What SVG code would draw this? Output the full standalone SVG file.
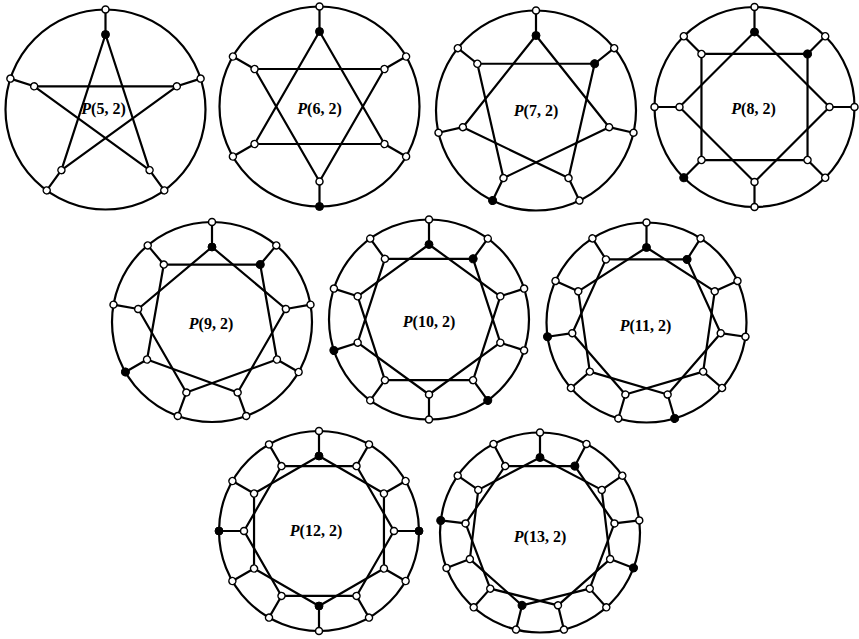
<svg xmlns="http://www.w3.org/2000/svg" xmlns:xlink="http://www.w3.org/1999/xlink" width="859" height="639" viewBox="0 0 859 639">
<style>
.e{stroke:#000;stroke-width:2.2;fill:none;stroke-linecap:round}
.w{fill:#fff;stroke:#000;stroke-width:1.5}
.b{fill:#000;stroke:#000;stroke-width:1}
.lbl{font-family:"Liberation Serif","DejaVu Serif",serif;font-weight:bold;font-size:16px;text-anchor:middle;fill:#000}
.it{font-style:italic}
</style>
<defs>
<line id="sp" class="e" x1="0" y1="-100" x2="0" y2="-75"/>
<line id="i5" class="e" x1="0" y1="-75" x2="44.08" y2="60.68"/>
<line id="i6" class="e" x1="0" y1="-75" x2="64.95" y2="37.5"/>
<line id="i7" class="e" x1="0" y1="-75" x2="73.12" y2="16.69"/>
<line id="i8" class="e" x1="0" y1="-75" x2="75" y2="0"/>
<line id="i9" class="e" x1="0" y1="-75" x2="73.86" y2="-13.02"/>
<line id="i10" class="e" x1="0" y1="-75" x2="71.33" y2="-23.18"/>
<line id="i11" class="e" x1="0" y1="-75" x2="68.22" y2="-31.16"/>
<line id="i12" class="e" x1="0" y1="-75" x2="64.95" y2="-37.5"/>
<line id="i13" class="e" x1="0" y1="-75" x2="61.72" y2="-42.6"/>
<circle id="wo" class="w" cx="0" cy="-100" r="3.5"/>
<circle id="wi" class="w" cx="0" cy="-75" r="3.5"/>
<circle id="bo" class="b" cx="0" cy="-100" r="4"/>
<circle id="bi" class="b" cx="0" cy="-75" r="4"/>
</defs>

<!-- P(5,2) -->
<g id="P5" transform="translate(105.5,109.5)">
<g id="P5-edges">
<circle class="e" r="100"/>
<use href="#sp"/><use href="#sp" transform="rotate(72)"/><use href="#sp" transform="rotate(144)"/><use href="#sp" transform="rotate(216)"/><use href="#sp" transform="rotate(288)"/>
<use href="#i5"/><use href="#i5" transform="rotate(72)"/><use href="#i5" transform="rotate(144)"/><use href="#i5" transform="rotate(216)"/><use href="#i5" transform="rotate(288)"/>
</g>
<text class="lbl" x="-2" y="4"><tspan class="it">P</tspan>(5, 2)</text>
<g id="P5-nodes">
<use id="P5-o0" href="#wo"/><use id="P5-o1" href="#wo" transform="rotate(72)"/><use id="P5-o2" href="#wo" transform="rotate(144)"/><use id="P5-o3" href="#wo" transform="rotate(216)"/><use id="P5-o4" href="#wo" transform="rotate(288)"/>
<use id="P5-i0" href="#bi"/><use id="P5-i1" href="#wi" transform="rotate(72)"/><use id="P5-i2" href="#wi" transform="rotate(144)"/><use id="P5-i3" href="#wi" transform="rotate(216)"/><use id="P5-i4" href="#wi" transform="rotate(288)"/>
</g>
</g>

<!-- P(6,2) -->
<g id="P6" transform="translate(319.5,106.5)">
<g id="P6-edges">
<circle class="e" r="100"/>
<use href="#sp"/><use href="#sp" transform="rotate(60)"/><use href="#sp" transform="rotate(120)"/><use href="#sp" transform="rotate(180)"/><use href="#sp" transform="rotate(240)"/><use href="#sp" transform="rotate(300)"/>
<use href="#i6"/><use href="#i6" transform="rotate(60)"/><use href="#i6" transform="rotate(120)"/><use href="#i6" transform="rotate(180)"/><use href="#i6" transform="rotate(240)"/><use href="#i6" transform="rotate(300)"/>
</g>
<text class="lbl" x="0" y="7"><tspan class="it">P</tspan>(6, 2)</text>
<g id="P6-nodes">
<use id="P6-o0" href="#wo"/><use id="P6-o1" href="#wo" transform="rotate(60)"/><use id="P6-o2" href="#wo" transform="rotate(120)"/><use id="P6-o3" href="#bo" transform="rotate(180)"/><use id="P6-o4" href="#wo" transform="rotate(240)"/><use id="P6-o5" href="#wo" transform="rotate(300)"/>
<use id="P6-i0" href="#bi"/><use id="P6-i1" href="#wi" transform="rotate(60)"/><use id="P6-i2" href="#wi" transform="rotate(120)"/><use id="P6-i3" href="#wi" transform="rotate(180)"/><use id="P6-i4" href="#wi" transform="rotate(240)"/><use id="P6-i5" href="#wi" transform="rotate(300)"/>
</g>
</g>

<!-- P(7,2) -->
<g id="P7" transform="translate(536,110.5)">
<g id="P7-edges">
<circle class="e" r="100"/>
<use href="#sp"/><use href="#sp" transform="rotate(51.43)"/><use href="#sp" transform="rotate(102.86)"/><use href="#sp" transform="rotate(154.29)"/><use href="#sp" transform="rotate(205.71)"/><use href="#sp" transform="rotate(257.14)"/><use href="#sp" transform="rotate(308.57)"/>
<use href="#i7"/><use href="#i7" transform="rotate(51.43)"/><use href="#i7" transform="rotate(102.86)"/><use href="#i7" transform="rotate(154.29)"/><use href="#i7" transform="rotate(205.71)"/><use href="#i7" transform="rotate(257.14)"/><use href="#i7" transform="rotate(308.57)"/>
</g>
<text class="lbl" x="0" y="5"><tspan class="it">P</tspan>(7, 2)</text>
<g id="P7-nodes">
<use id="P7-o0" href="#wo"/><use id="P7-o1" href="#wo" transform="rotate(51.43)"/><use id="P7-o2" href="#wo" transform="rotate(102.86)"/><use id="P7-o3" href="#wo" transform="rotate(154.29)"/><use id="P7-o4" href="#bo" transform="rotate(205.71)"/><use id="P7-o5" href="#wo" transform="rotate(257.14)"/><use id="P7-o6" href="#wo" transform="rotate(308.57)"/>
<use id="P7-i0" href="#bi"/><use id="P7-i1" href="#bi" transform="rotate(51.43)"/><use id="P7-i2" href="#wi" transform="rotate(102.86)"/><use id="P7-i3" href="#wi" transform="rotate(154.29)"/><use id="P7-i4" href="#wi" transform="rotate(205.71)"/><use id="P7-i5" href="#wi" transform="rotate(257.14)"/><use id="P7-i6" href="#wi" transform="rotate(308.57)"/>
</g>
</g>

<!-- P(8,2) -->
<g id="P8" transform="translate(754.5,107)">
<g id="P8-edges">
<circle class="e" r="100"/>
<use href="#sp"/><use href="#sp" transform="rotate(45)"/><use href="#sp" transform="rotate(90)"/><use href="#sp" transform="rotate(135)"/><use href="#sp" transform="rotate(180)"/><use href="#sp" transform="rotate(225)"/><use href="#sp" transform="rotate(270)"/><use href="#sp" transform="rotate(315)"/>
<use href="#i8"/><use href="#i8" transform="rotate(45)"/><use href="#i8" transform="rotate(90)"/><use href="#i8" transform="rotate(135)"/><use href="#i8" transform="rotate(180)"/><use href="#i8" transform="rotate(225)"/><use href="#i8" transform="rotate(270)"/><use href="#i8" transform="rotate(315)"/>
</g>
<text class="lbl" x="-1" y="7"><tspan class="it">P</tspan>(8, 2)</text>
<g id="P8-nodes">
<use id="P8-o0" href="#wo"/><use id="P8-o1" href="#wo" transform="rotate(45)"/><use id="P8-o2" href="#wo" transform="rotate(90)"/><use id="P8-o3" href="#wo" transform="rotate(135)"/><use id="P8-o4" href="#wo" transform="rotate(180)"/><use id="P8-o5" href="#bo" transform="rotate(225)"/><use id="P8-o6" href="#wo" transform="rotate(270)"/><use id="P8-o7" href="#wo" transform="rotate(315)"/>
<use id="P8-i0" href="#bi"/><use id="P8-i1" href="#bi" transform="rotate(45)"/><use id="P8-i2" href="#wi" transform="rotate(90)"/><use id="P8-i3" href="#wi" transform="rotate(135)"/><use id="P8-i4" href="#wi" transform="rotate(180)"/><use id="P8-i5" href="#wi" transform="rotate(225)"/><use id="P8-i6" href="#wi" transform="rotate(270)"/><use id="P8-i7" href="#wi" transform="rotate(315)"/>
</g>
</g>

<!-- P(9,2) -->
<g id="P9" transform="translate(212,322)">
<g id="P9-edges">
<circle class="e" r="100"/>
<use href="#sp"/><use href="#sp" transform="rotate(40)"/><use href="#sp" transform="rotate(80)"/><use href="#sp" transform="rotate(120)"/><use href="#sp" transform="rotate(160)"/><use href="#sp" transform="rotate(200)"/><use href="#sp" transform="rotate(240)"/><use href="#sp" transform="rotate(280)"/><use href="#sp" transform="rotate(320)"/>
<use href="#i9"/><use href="#i9" transform="rotate(40)"/><use href="#i9" transform="rotate(80)"/><use href="#i9" transform="rotate(120)"/><use href="#i9" transform="rotate(160)"/><use href="#i9" transform="rotate(200)"/><use href="#i9" transform="rotate(240)"/><use href="#i9" transform="rotate(280)"/><use href="#i9" transform="rotate(320)"/>
</g>
<text class="lbl" x="-1" y="7"><tspan class="it">P</tspan>(9, 2)</text>
<g id="P9-nodes">
<use id="P9-o0" href="#wo"/><use id="P9-o1" href="#wo" transform="rotate(40)"/><use id="P9-o2" href="#wo" transform="rotate(80)"/><use id="P9-o3" href="#wo" transform="rotate(120)"/><use id="P9-o4" href="#wo" transform="rotate(160)"/><use id="P9-o5" href="#wo" transform="rotate(200)"/><use id="P9-o6" href="#bo" transform="rotate(240)"/><use id="P9-o7" href="#wo" transform="rotate(280)"/><use id="P9-o8" href="#wo" transform="rotate(320)"/>
<use id="P9-i0" href="#bi"/><use id="P9-i1" href="#bi" transform="rotate(40)"/><use id="P9-i2" href="#wi" transform="rotate(80)"/><use id="P9-i3" href="#wi" transform="rotate(120)"/><use id="P9-i4" href="#wi" transform="rotate(160)"/><use id="P9-i5" href="#wi" transform="rotate(200)"/><use id="P9-i6" href="#wi" transform="rotate(240)"/><use id="P9-i7" href="#wi" transform="rotate(280)"/><use id="P9-i8" href="#wi" transform="rotate(320)"/>
</g>
</g>

<!-- P(10,2) -->
<g id="P10" transform="translate(429,319.5)">
<g id="P10-edges">
<circle class="e" r="100"/>
<use href="#sp"/><use href="#sp" transform="rotate(36)"/><use href="#sp" transform="rotate(72)"/><use href="#sp" transform="rotate(108)"/><use href="#sp" transform="rotate(144)"/><use href="#sp" transform="rotate(180)"/><use href="#sp" transform="rotate(216)"/><use href="#sp" transform="rotate(252)"/><use href="#sp" transform="rotate(288)"/><use href="#sp" transform="rotate(324)"/>
<use href="#i10"/><use href="#i10" transform="rotate(36)"/><use href="#i10" transform="rotate(72)"/><use href="#i10" transform="rotate(108)"/><use href="#i10" transform="rotate(144)"/><use href="#i10" transform="rotate(180)"/><use href="#i10" transform="rotate(216)"/><use href="#i10" transform="rotate(252)"/><use href="#i10" transform="rotate(288)"/><use href="#i10" transform="rotate(324)"/>
</g>
<text class="lbl" x="0" y="7"><tspan class="it">P</tspan>(10, 2)</text>
<g id="P10-nodes">
<use id="P10-o0" href="#wo"/><use id="P10-o1" href="#wo" transform="rotate(36)"/><use id="P10-o2" href="#wo" transform="rotate(72)"/><use id="P10-o3" href="#wo" transform="rotate(108)"/><use id="P10-o4" href="#bo" transform="rotate(144)"/><use id="P10-o5" href="#wo" transform="rotate(180)"/><use id="P10-o6" href="#wo" transform="rotate(216)"/><use id="P10-o7" href="#bo" transform="rotate(252)"/><use id="P10-o8" href="#wo" transform="rotate(288)"/><use id="P10-o9" href="#wo" transform="rotate(324)"/>
<use id="P10-i0" href="#bi"/><use id="P10-i1" href="#bi" transform="rotate(36)"/><use id="P10-i2" href="#wi" transform="rotate(72)"/><use id="P10-i3" href="#wi" transform="rotate(108)"/><use id="P10-i4" href="#wi" transform="rotate(144)"/><use id="P10-i5" href="#wi" transform="rotate(180)"/><use id="P10-i6" href="#wi" transform="rotate(216)"/><use id="P10-i7" href="#wi" transform="rotate(252)"/><use id="P10-i8" href="#wi" transform="rotate(288)"/><use id="P10-i9" href="#wi" transform="rotate(324)"/>
</g>
</g>

<!-- P(11,2) -->
<g id="P11" transform="translate(646.5,322.5)">
<g id="P11-edges">
<circle class="e" r="100"/>
<use href="#sp"/><use href="#sp" transform="rotate(32.727)"/><use href="#sp" transform="rotate(65.455)"/><use href="#sp" transform="rotate(98.182)"/><use href="#sp" transform="rotate(130.909)"/><use href="#sp" transform="rotate(163.636)"/><use href="#sp" transform="rotate(196.364)"/><use href="#sp" transform="rotate(229.091)"/><use href="#sp" transform="rotate(261.818)"/><use href="#sp" transform="rotate(294.545)"/><use href="#sp" transform="rotate(327.273)"/>
<use href="#i11"/><use href="#i11" transform="rotate(32.727)"/><use href="#i11" transform="rotate(65.455)"/><use href="#i11" transform="rotate(98.182)"/><use href="#i11" transform="rotate(130.909)"/><use href="#i11" transform="rotate(163.636)"/><use href="#i11" transform="rotate(196.364)"/><use href="#i11" transform="rotate(229.091)"/><use href="#i11" transform="rotate(261.818)"/><use href="#i11" transform="rotate(294.545)"/><use href="#i11" transform="rotate(327.273)"/>
</g>
<text class="lbl" x="-1" y="8"><tspan class="it">P</tspan>(11, 2)</text>
<g id="P11-nodes">
<use id="P11-o0" href="#wo"/><use id="P11-o1" href="#wo" transform="rotate(32.727)"/><use id="P11-o2" href="#wo" transform="rotate(65.455)"/><use id="P11-o3" href="#wo" transform="rotate(98.182)"/><use id="P11-o4" href="#wo" transform="rotate(130.909)"/><use id="P11-o5" href="#bo" transform="rotate(163.636)"/><use id="P11-o6" href="#wo" transform="rotate(196.364)"/><use id="P11-o7" href="#wo" transform="rotate(229.091)"/><use id="P11-o8" href="#bo" transform="rotate(261.818)"/><use id="P11-o9" href="#wo" transform="rotate(294.545)"/><use id="P11-o10" href="#wo" transform="rotate(327.273)"/>
<use id="P11-i0" href="#bi"/><use id="P11-i1" href="#bi" transform="rotate(32.727)"/><use id="P11-i2" href="#wi" transform="rotate(65.455)"/><use id="P11-i3" href="#wi" transform="rotate(98.182)"/><use id="P11-i4" href="#wi" transform="rotate(130.909)"/><use id="P11-i5" href="#wi" transform="rotate(163.636)"/><use id="P11-i6" href="#wi" transform="rotate(196.364)"/><use id="P11-i7" href="#wi" transform="rotate(229.091)"/><use id="P11-i8" href="#wi" transform="rotate(261.818)"/><use id="P11-i9" href="#wi" transform="rotate(294.545)"/><use id="P11-i10" href="#wi" transform="rotate(327.273)"/>
</g>
</g>

<!-- P(12,2) -->
<g id="P12" transform="translate(319,531)">
<g id="P12-edges">
<circle class="e" r="100"/>
<use href="#sp"/><use href="#sp" transform="rotate(30)"/><use href="#sp" transform="rotate(60)"/><use href="#sp" transform="rotate(90)"/><use href="#sp" transform="rotate(120)"/><use href="#sp" transform="rotate(150)"/><use href="#sp" transform="rotate(180)"/><use href="#sp" transform="rotate(210)"/><use href="#sp" transform="rotate(240)"/><use href="#sp" transform="rotate(270)"/><use href="#sp" transform="rotate(300)"/><use href="#sp" transform="rotate(330)"/>
<use href="#i12"/><use href="#i12" transform="rotate(30)"/><use href="#i12" transform="rotate(60)"/><use href="#i12" transform="rotate(90)"/><use href="#i12" transform="rotate(120)"/><use href="#i12" transform="rotate(150)"/><use href="#i12" transform="rotate(180)"/><use href="#i12" transform="rotate(210)"/><use href="#i12" transform="rotate(240)"/><use href="#i12" transform="rotate(270)"/><use href="#i12" transform="rotate(300)"/><use href="#i12" transform="rotate(330)"/>
</g>
<text class="lbl" x="-3" y="5"><tspan class="it">P</tspan>(12, 2)</text>
<g id="P12-nodes">
<use id="P12-o0" href="#wo"/><use id="P12-o1" href="#wo" transform="rotate(30)"/><use id="P12-o2" href="#wo" transform="rotate(60)"/><use id="P12-o3" href="#bo" transform="rotate(90)"/><use id="P12-o4" href="#wo" transform="rotate(120)"/><use id="P12-o5" href="#wo" transform="rotate(150)"/><use id="P12-o6" href="#wo" transform="rotate(180)"/><use id="P12-o7" href="#wo" transform="rotate(210)"/><use id="P12-o8" href="#wo" transform="rotate(240)"/><use id="P12-o9" href="#bo" transform="rotate(270)"/><use id="P12-o10" href="#wo" transform="rotate(300)"/><use id="P12-o11" href="#wo" transform="rotate(330)"/>
<use id="P12-i0" href="#bi"/><use id="P12-i1" href="#wi" transform="rotate(30)"/><use id="P12-i2" href="#wi" transform="rotate(60)"/><use id="P12-i3" href="#wi" transform="rotate(90)"/><use id="P12-i4" href="#wi" transform="rotate(120)"/><use id="P12-i5" href="#wi" transform="rotate(150)"/><use id="P12-i6" href="#bi" transform="rotate(180)"/><use id="P12-i7" href="#wi" transform="rotate(210)"/><use id="P12-i8" href="#wi" transform="rotate(240)"/><use id="P12-i9" href="#wi" transform="rotate(270)"/><use id="P12-i10" href="#wi" transform="rotate(300)"/><use id="P12-i11" href="#wi" transform="rotate(330)"/>
</g>
</g>

<!-- P(13,2) -->
<g id="P13" transform="translate(540,532.5)">
<g id="P13-edges">
<circle class="e" r="100"/>
<use href="#sp"/><use href="#sp" transform="rotate(27.692)"/><use href="#sp" transform="rotate(55.385)"/><use href="#sp" transform="rotate(83.077)"/><use href="#sp" transform="rotate(110.769)"/><use href="#sp" transform="rotate(138.462)"/><use href="#sp" transform="rotate(166.154)"/><use href="#sp" transform="rotate(193.846)"/><use href="#sp" transform="rotate(221.538)"/><use href="#sp" transform="rotate(249.231)"/><use href="#sp" transform="rotate(276.923)"/><use href="#sp" transform="rotate(304.615)"/><use href="#sp" transform="rotate(332.308)"/>
<use href="#i13"/><use href="#i13" transform="rotate(27.692)"/><use href="#i13" transform="rotate(55.385)"/><use href="#i13" transform="rotate(83.077)"/><use href="#i13" transform="rotate(110.769)"/><use href="#i13" transform="rotate(138.462)"/><use href="#i13" transform="rotate(166.154)"/><use href="#i13" transform="rotate(193.846)"/><use href="#i13" transform="rotate(221.538)"/><use href="#i13" transform="rotate(249.231)"/><use href="#i13" transform="rotate(276.923)"/><use href="#i13" transform="rotate(304.615)"/><use href="#i13" transform="rotate(332.308)"/>
</g>
<text class="lbl" x="0" y="9"><tspan class="it">P</tspan>(13, 2)</text>
<g id="P13-nodes">
<use id="P13-o0" href="#wo"/><use id="P13-o1" href="#wo" transform="rotate(27.692)"/><use id="P13-o2" href="#wo" transform="rotate(55.385)"/><use id="P13-o3" href="#wo" transform="rotate(83.077)"/><use id="P13-o4" href="#bo" transform="rotate(110.769)"/><use id="P13-o5" href="#wo" transform="rotate(138.462)"/><use id="P13-o6" href="#wo" transform="rotate(166.154)"/><use id="P13-o7" href="#wo" transform="rotate(193.846)"/><use id="P13-o8" href="#wo" transform="rotate(221.538)"/><use id="P13-o9" href="#wo" transform="rotate(249.231)"/><use id="P13-o10" href="#bo" transform="rotate(276.923)"/><use id="P13-o11" href="#wo" transform="rotate(304.615)"/><use id="P13-o12" href="#wo" transform="rotate(332.308)"/>
<use id="P13-i0" href="#bi"/><use id="P13-i1" href="#bi" transform="rotate(27.692)"/><use id="P13-i2" href="#wi" transform="rotate(55.385)"/><use id="P13-i3" href="#wi" transform="rotate(83.077)"/><use id="P13-i4" href="#wi" transform="rotate(110.769)"/><use id="P13-i5" href="#wi" transform="rotate(138.462)"/><use id="P13-i6" href="#wi" transform="rotate(166.154)"/><use id="P13-i7" href="#bi" transform="rotate(193.846)"/><use id="P13-i8" href="#wi" transform="rotate(221.538)"/><use id="P13-i9" href="#wi" transform="rotate(249.231)"/><use id="P13-i10" href="#wi" transform="rotate(276.923)"/><use id="P13-i11" href="#wi" transform="rotate(304.615)"/><use id="P13-i12" href="#wi" transform="rotate(332.308)"/>
</g>
</g>
</svg>
